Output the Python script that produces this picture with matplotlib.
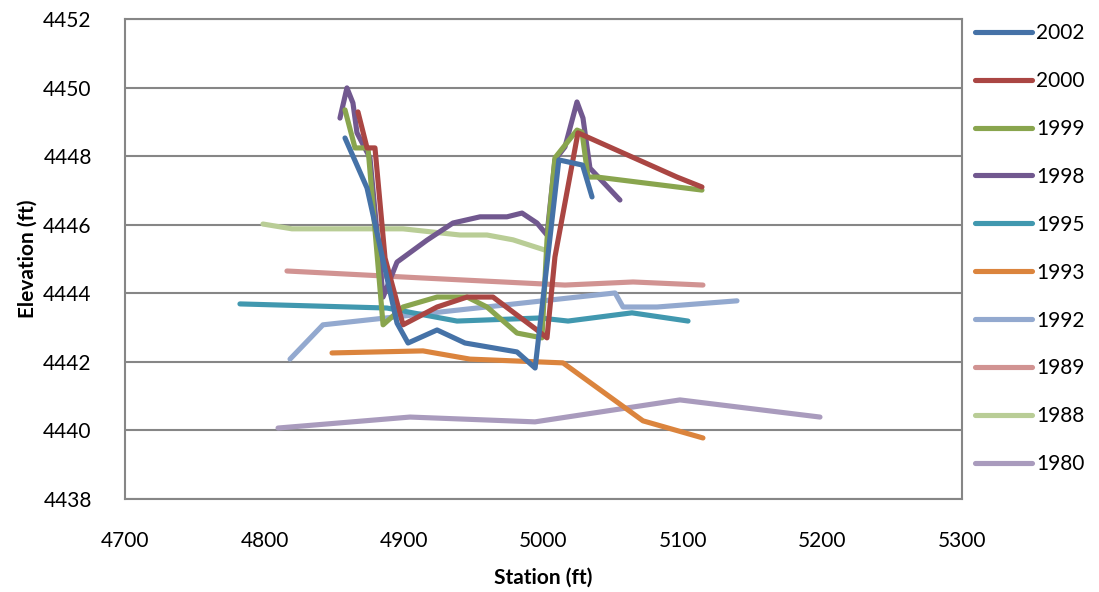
import matplotlib.pyplot as plt

plt.rcParams['font.family'] = ['Lato', 'DejaVu Sans']

# station / elevation surveys
x2002 = [4857.7, 4873.5, 4895.0, 4902.9, 4923.7, 4943.7, 4981.0, 4994.0, 5011.0, 5028.0, 5034.8]
y2002 = [4448.53, 4447.07, 4443.13, 4442.55, 4442.93, 4442.55, 4442.29, 4441.82, 4447.89, 4447.74, 4446.81]

x2000 = [4867.0, 4873.5, 4879.2, 4886.4, 4899.3, 4923.7, 4945.2, 4963.8, 4995.3, 5002.5, 5008.2, 5024.7, 5095.7, 5113.6]
y2000 = [4449.29, 4448.24, 4448.24, 4445.03, 4443.08, 4443.60, 4443.89, 4443.89, 4442.93, 4442.70, 4445.06, 4448.68, 4447.39, 4447.10]

x1999 = [4857.7, 4864.9, 4874.2, 4885.0, 4899.3, 4923.7, 4945.2, 4959.5, 4981.0, 4998.9, 5002.5, 5008.2, 5024.0, 5027.6, 5031.9, 5038.4, 5113.6]
y1999 = [4449.35, 4448.24, 4448.24, 4443.08, 4443.60, 4443.89, 4443.89, 4443.60, 4442.84, 4442.70, 4445.55, 4447.95, 4448.76, 4448.70, 4447.39, 4447.39, 4447.01]

x1998 = [4854.1, 4859.1, 4863.4, 4866.3, 4875.6, 4885.0, 4895.0, 4916.5, 4935.1, 4954.5, 4973.8, 4984.6, 4995.3, 5002.5, 5008.2, 5015.4, 5024.0, 5028.3, 5033.3, 5054.8]
y1998 = [4449.11, 4449.99, 4449.55, 4448.68, 4447.95, 4443.89, 4444.91, 4445.55, 4446.05, 4446.23, 4446.23, 4446.34, 4446.05, 4445.70, 4447.89, 4448.27, 4449.58, 4449.11, 4447.65, 4446.72]

x1995 = [4782.4, 4887.8, 4938.0, 4997.5, 5017.6, 5063.4, 5103.6]
y1995 = [4443.69, 4443.57, 4443.19, 4443.28, 4443.19, 4443.43, 4443.19]

x1993 = [4848.4, 4913.6, 4947.3, 5014.0, 5071.3, 5114.3]
y1993 = [4442.26, 4442.32, 4442.08, 4441.97, 4440.28, 4439.78]

x1992 = [4818.3, 4841.9, 5051.3, 5057.0, 5081.4, 5138.7]
y1992 = [4442.08, 4443.08, 4444.01, 4443.60, 4443.60, 4443.78]

x1989 = [4816.1, 4911.5, 5015.4, 5064.2, 5114.3]
y1989 = [4444.65, 4444.45, 4444.24, 4444.33, 4444.24]

x1988 = [4798.9, 4819.7, 4899.3, 4940.1, 4959.5, 4978.1, 5001.1]
y1988 = [4446.02, 4445.88, 4445.88, 4445.70, 4445.70, 4445.56, 4445.26]

x1980 = [4809.7, 4904.3, 4993.9, 5097.8, 5198.2]
y1980 = [4440.07, 4440.39, 4440.25, 4440.89, 4440.39]

years = ['2002', '2000', '1999', '1998', '1995', '1993', '1992', '1989', '1988', '1980']
xs = [x2002, x2000, x1999, x1998, x1995, x1993, x1992, x1989, x1988, x1980]
ys = [y2002, y2000, y1999, y1998, y1995, y1993, y1992, y1989, y1988, y1980]
colors = ['#4572A7', '#AA4643', '#89A54E', '#71588F', '#4198AF',
          '#DB843D', '#93A9CF', '#D19392', '#B9CD96', '#A99BBD']

fig = plt.figure(figsize=(10.99, 5.92), dpi=100)
ax = fig.add_axes([125/1099, 93/592, 837/1099, 480/592])

# draw bottom series first so 2002 ends up on top
for i in range(len(years) - 1, -1, -1):
    ax.plot(xs[i], ys[i], color=colors[i], lw=3.7, label=years[i],
            solid_capstyle='round', solid_joinstyle='round')

ax.set_xlim(4700, 5300)
ax.set_ylim(4438, 4452)
ax.set_xticks(range(4700, 5301, 100))
ax.set_yticks(range(4438, 4453, 2))
ax.grid(axis='y', color='#868686', lw=1.5)
ax.set_axisbelow(True)
for s in ax.spines.values():
    s.set_color('#868686')
    s.set_linewidth(1.5)
ax.tick_params(length=0, labelsize=15)
ax.tick_params(axis='y', pad=24)
ax.tick_params(axis='x', pad=23)
ax.set_xlabel('Station (ft)', fontsize=15, fontweight='bold', labelpad=12)
ax.set_ylabel('Elevation (ft)', fontsize=15, fontweight='bold', labelpad=4)

h, l = ax.get_legend_handles_labels()
fig.legend(h[::-1], l[::-1], loc='upper left', bbox_to_anchor=(975/1099, 1 - 23/592),
           frameon=False, fontsize=15, handlelength=2.75, handletextpad=0.2,
           labelspacing=1.34, borderpad=0, borderaxespad=0)

fig.savefig('out.png', dpi=100)
